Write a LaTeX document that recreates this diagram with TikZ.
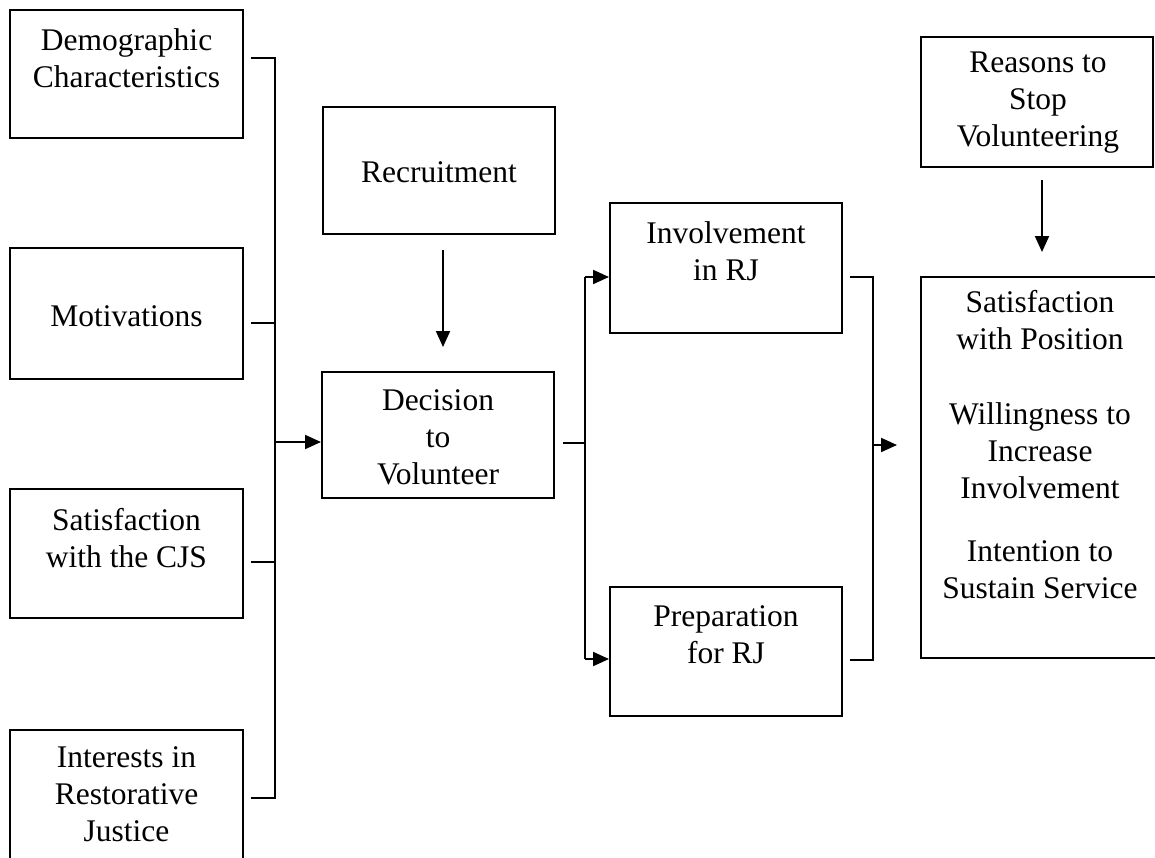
\documentclass[tikz,border=0pt]{standalone}
\usepackage{fontspec}
\setmainfont{Liberation Serif}
\usetikzlibrary{arrows.meta,calc}
\begin{document}
\begin{tikzpicture}[x=1pt,y=-1pt,
  box/.style={draw=black,line width=2pt,rectangle,inner sep=0pt,minimum width=233pt},
  txt/.style={align=center,inner sep=0pt,font=\fontsize{31.5}{37}\selectfont},
  conn/.style={line width=2pt},
  arr/.style={line width=2pt,-{Triangle[length=16pt,width=14pt]}}]
\useasboundingbox[fill=white] (0,0) rectangle (1155,857);
% boxes
\node[box,minimum height=128pt] (demo) at (126.5,74) {};
\node[box,minimum height=131pt] (motiv) at (126.5,313.5) {};
\node[box,minimum height=129pt] (satis) at (126.5,553.5) {};
\node[box,minimum height=140pt] (inter) at (126.5,800) {};
\node[box,minimum width=232pt,minimum height=127pt] (recr) at (439,170.5) {};
\node[box,minimum width=232pt,minimum height=126pt] (dec) at (438,435) {};
\node[box,minimum width=232pt,minimum height=130pt] (inv) at (726,268) {};
\node[box,minimum width=232pt,minimum height=129pt] (prep) at (726,651.5) {};
\node[box,minimum width=232pt,minimum height=130pt] (reas) at (1037,102) {};
\node[box,minimum width=239pt,minimum height=381pt] (outc) at (1040.5,467.5) {};
% texts
\node[txt] (tdemo) at (126.5,58) {Demographic\\Characteristics};
\node[txt] (tmotiv) at (126.5,316.5) {Motivations};
\node[txt] (tsatis) at (126.5,538) {Satisfaction\\with the CJS};
\node[txt] (tinter) at (126.5,794.5) {Interests in\\Restorative\\Justice};
\node[txt] (trecr) at (439,172.5) {Recruitment};
\node[txt] (tdec) at (438,437.5) {Decision\\to\\Volunteer};
\node[txt] (tinv) at (726,251) {Involvement\\in RJ};
\node[txt] (tprep) at (726,635) {Preparation\\for RJ};
\node[txt] (treas) at (1038,103) {Reasons to\\Stop\\Volunteering};
\node[txt] (toutc) at (1040,445) {Satisfaction\\with Position\\[38pt]Willingness to\\Increase\\Involvement\\[26pt]Intention to\\Sustain Service};
% left bus
\coordinate (bTop) at (275,58);
\coordinate (bBot) at (275,798);
\draw[conn] ($(demo.east)+(7,-16)$) -- (bTop) -- (bBot) -- ($(inter.east)+(7,-2)$);
\draw[conn] ($(motiv.east)+(7,9.5)$) -- ($(motiv.east)+(32,9.5)$);
\draw[conn] ($(satis.east)+(7,8.5)$) -- ($(satis.east)+(32,8.5)$);
\draw[arr] ($(bTop)+(0,384)$) -- ($(dec.west)+(0,7)$);
% recruitment arrow
\coordinate (rA) at (443,250);
\coordinate (rB) at (443,347);
\draw[arr] (rA) -- (rB);
% middle bus
\coordinate (mTop) at (585,277);
\coordinate (mBot) at (585,659);
\draw[conn] ($(dec.east)+(8,8)$) -- ($(dec.east)+(31,8)$);
\draw[arr] (mBot |- mTop) -- (inv.west |- mTop);
\draw[conn] (mTop) -- (mBot);
\draw[arr] (mBot) -- (prep.west |- mBot);
% right bus
\coordinate (rTop) at (873,277);
\coordinate (rBot) at (873,660);
\coordinate (rOut) at (897,445);
\draw[conn] (inv.east |- rTop) ++(7,0) -- (rTop) -- (rBot) -- ($(prep.east |- rBot)+(7,0)$);
\draw[arr] (rTop |- rOut) -- (rOut);
% reasons arrow
\coordinate (sA) at (1042,180);
\coordinate (sB) at (1042,252);
\draw[arr] (sA) -- (sB);
\end{tikzpicture}
\end{document}
